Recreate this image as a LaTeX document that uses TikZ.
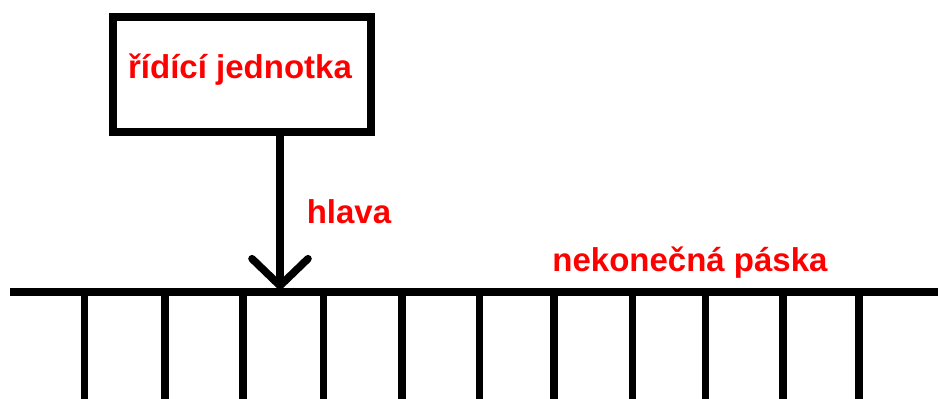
\documentclass[tikz,border=0pt]{standalone}
\usepackage{fontspec}
\setmainfont{Liberation Sans}
\usepackage{xcolor}
\usetikzlibrary{arrows.meta, positioning, calc}

\tikzset{
    thickline/.style={line width=8pt},
    unitbox/.style={draw, thickline, minimum width=258pt, minimum height=115pt, inner sep=0pt},
    redlabel/.style={text=red, font=\fontsize{33}{40}\selectfont\bfseries, inner sep=0pt, anchor=base},
    headarrow/.style={line width=7.6pt, -{Straight Barb[length=27pt, width=56pt, line cap=round]}},
}

\begin{document}
\begin{tikzpicture}[x=1pt, y=-1pt]
    \useasboundingbox (0,0) rectangle (938,399);

    \node[unitbox] (Unit) at (242,74.4) {};
    \node[redlabel] (UnitText) at (240,78) {řídící jednotka};

    \coordinate (Head) at (280,291);
    \draw[headarrow] (Head |- Unit.south) -- (Head);
    \node[redlabel] (HeadText) at (349,223) {hlava};

    \coordinate (TapeL) at (10,292);
    \coordinate (TapeR) at (938,292);
    \draw[thickline] (TapeL) -- (TapeR);
    \foreach \x in {84.5,165,243,323.5,402,479.5,554,632.5,705.5,783,859}
        \draw[line width=7.5pt] (\x,292) -- (\x,399);
    \node[redlabel] (TapeText) at (690,271) {nekonečná páska};
\end{tikzpicture}
\end{document}
